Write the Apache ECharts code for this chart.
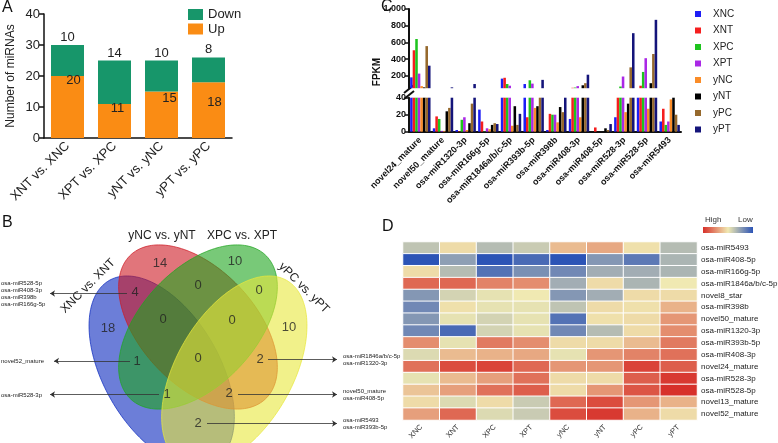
<!DOCTYPE html>
<html>
<head>
<meta charset="utf-8">
<script src="https://cdn.jsdelivr.net/npm/echarts@6/dist/echarts.min.js"></script>
<style>
html, body { margin: 0; padding: 0; background: #fff; }
#main { width: 778px; height: 443px; }
</style>
</head>
<body>
<div id="main"></div>
<script>
var FONT = '"Liberation Sans", Arial, sans-serif';

// ---- A: differentially expressed miRNAs
var compCats = ['XNT vs. XNC', 'XPT vs. XPC', 'yNT vs. yNC', 'yPT vs. yPC'];
var upCounts = [20, 11, 15, 18];
var downCounts = [10, 14, 10, 8];

// ---- C: FPKM per miRNA
var mirNames = ['novel24_mature', 'novel50_mature', 'osa-miR1320-3p', 'osa-miR166g-5p',
  'osa-miR1846a/b/c-5p', 'osa-miR393b-5p', 'osa-miR398b', 'osa-miR408-3p',
  'osa-miR408-5p', 'osa-miR528-3p', 'osa-miR528-5p', 'osa-miR5493'];
var sampleNames = ['XNC', 'XNT', 'XPC', 'XPT', 'yNC', 'yNT', 'yPC', 'yPT'];
var fpkmXNC = [180, 4, 2, 26, 165, 100, 2, 15, 0, 17, 45, 12];
var fpkmXNT = [505, 18, 0.5, 12, 175, 17, 21, 55, 5, 45, 80, 27];
var fpkmXPC = [640, 15, 14, 0.5, 100, 145, 20, 58, 0, 70, 245, 8];
var fpkmXPT = [225, 1, 17, 4, 80, 105, 20, 75, 0, 190, 410, 12];
var fpkmYNC = [75, 1, 2, 3, 7, 28, 11, 17, 0, 23, 27, 38];
var fpkmYNT = [60, 24, 10, 8, 30, 30, 29, 85, 4, 33, 110, 40];
var fpkmYPC = [555, 28, 33, 10, 8, 45, 23, 110, 2, 300, 460, 20];
var fpkmYPT = [320, 60, 100, 9, 21, 150, 42, 212, 9, 710, 870, 8];
var yTicksHigh = [200, 400, 600, 800, 1000];

// ---- D: heatmap (scaled expression), rows top to bottom
var hmRows = ['osa-miR5493', 'osa-miR408-5p', 'osa-miR166g-5p', 'osa-miR1846a/b/c-5p',
  'novel8_star', 'osa-miR398b', 'novel50_mature', 'osa-miR1320-3p', 'osa-miR393b-5p',
  'osa-miR408-3p', 'novel24_mature', 'osa-miR528-3p', 'osa-miR528-5p',
  'novel13_mature', 'novel52_mature'];
var zXNC = [-0.5, -2.0, 0.15, 1.4, -1.1, -1.3, -1.1, -1.3, 1.0, -0.2, 1.3, -0.1, 0.4, 0.15, 0.8];
var zXNT = [0.15, -1.0, -0.6, 1.4, -0.3, 0.1, -0.1, -1.7, -0.1, 0.5, 1.7, 0.5, 0.8, -0.2, 1.4];
var zXPC = [-0.6, -2.0, -1.6, 1.1, -0.1, -0.1, -0.3, -0.3, 1.2, 0.6, 1.8, 0.8, 1.3, 0.15, -0.2];
var zXPT = [-0.4, -1.7, -1.2, 1.0, 0.0, -0.1, -0.1, -0.1, 1.0, 0.7, 1.4, 1.3, 1.5, -0.4, -0.4];
var zYNC = [0.5, -2.0, -1.3, -0.8, -1.1, -0.5, -1.6, -1.3, 0.15, -0.1, 0.9, 0.15, 0.15, 1.4, 1.7];
var zYNT = [0.7, -1.1, -0.8, 0.15, -0.8, 0.15, 0.1, -0.6, 0.15, 0.9, 0.9, 0.15, 0.9, 1.7, 1.9];
var zYPC = [0.1, -1.5, -0.8, -0.7, 0.15, 0.1, 0.15, 0.15, 0.5, 1.1, 1.8, 1.5, 1.6, 0.9, 0.6];
var zYPT = [-0.6, -0.7, -0.7, 0.0, 0.15, 0.6, 0.9, 1.0, 1.2, 1.3, 1.5, 1.9, 2.0, 0.6, 0.15];

// ---- B: Venn counts
var vennSets = ['XNC vs. XNT', 'yNC vs. yNT', 'XPC vs. XPT', 'yPC vs. yPT'];
var vennCounts = [18, 14, 10, 10, 4, 0, 0, 0, 0, 1, 0, 2, 1, 2, 2];
var notesLeft = [['osa-miR528-5p', 'osa-miR408-3p', 'osa-miR398b', 'osa-miR166g-5p'],
  ['novel52_mature'], ['osa-miR528-3p']];
var notesRight = [['osa-miR1846a/b/c-5p', 'osa-miR1320-3p'],
  ['novel50_mature', 'osa-miR408-5p'], ['osa-miR5493', 'osa-miR393b-5p']];

// layout only (venn panel, pixel-like units)
var countPos = [[108, 328], [160, 263], [235, 261], [289, 327], [135, 292], [198, 285],
  [259, 290], [163, 319], [232, 320], [137, 361], [198, 358], [260, 359], [167, 394],
  [229, 393], [198, 423]];
var ellipses = [
  {cx: 161.7, cy: 371.4, a: 105, b: 58, rot: 60, rgb: '10,40,190'},
  {cx: 198, cy: 327, a: 98.6, b: 57.6, rot: 47, rgb: '205,25,35'},
  {cx: 198, cy: 327, a: 98.6, b: 57.6, rot: 133, rgb: '30,165,30'},
  {cx: 234.3, cy: 371.4, a: 105, b: 58, rot: 120, rgb: '232,232,60'}
];

var sampleColors = ['#1e1ef5', '#f51e1e', '#1ec41e', '#aa28e6', '#fa8c28', '#000000', '#96692d', '#14147a'];
var fpkm = [fpkmXNC, fpkmXNT, fpkmXPC, fpkmXPT, fpkmYNC, fpkmYNT, fpkmYPC, fpkmYPT];
var zCols = [zXNC, zXNT, zXPC, zXPT, zYNC, zYNT, zYPC, zYPT];

var hmData = [];
zCols.forEach(function (col, i) {
  col.forEach(function (v, j) { hmData.push([i, j, v]); });
});

var upOffsets = [[6, -7], [3, -7], [8, -5], [6, 9]];

var series = [
  {
    name: 'Up', type: 'bar', stack: 'a', xAxisIndex: 0, yAxisIndex: 0, barWidth: 33,
    itemStyle: {color: '#fa8c14'},
    data: upCounts.map(function (v, i) {
      return {value: v, label: {offset: upOffsets[i]}};
    }),
    label: {show: true, position: 'insideTop', fontSize: 13, color: '#222'}
  },
  {
    name: 'Down', type: 'bar', stack: 'a', xAxisIndex: 0, yAxisIndex: 0, barWidth: 33,
    itemStyle: {color: '#17966a'}, data: downCounts,
    label: {show: true, position: 'top', distance: 1, fontSize: 13, color: '#222'}
  }
];
[1, 2].forEach(function (g) {
  sampleNames.forEach(function (s, i) {
    series.push({
      name: s, type: 'bar', xAxisIndex: g, yAxisIndex: g, data: fpkm[i],
      barGap: '0%', barCategoryGap: '10%', clip: true,
      itemStyle: {color: sampleColors[i]}
    });
  });
});
series.push({
  type: 'heatmap', xAxisIndex: 3, yAxisIndex: 3, data: hmData,
  itemStyle: {borderColor: '#fff', borderWidth: 1}, emphasis: {disabled: true}
});
series.push({
  type: 'custom', xAxisIndex: 4, yAxisIndex: 4, data: [[0], [1], [2], [3]], z: 2,
  renderItem: function (params, api) {
    var e = ellipses[api.value(0)];
    var th = e.rot * Math.PI / 180, pts = [];
    for (var k = 0; k < 180; k++) {
      var t = k / 180 * Math.PI * 2;
      var ux = e.a * Math.cos(t), uy = e.b * Math.sin(t);
      pts.push(api.coord([e.cx + ux * Math.cos(th) - uy * Math.sin(th),
        e.cy + ux * Math.sin(th) + uy * Math.cos(th)]));
    }
    return {type: 'polygon', shape: {points: pts},
      style: {fill: 'rgba(' + e.rgb + ',0.6)', stroke: 'rgba(' + e.rgb + ',0.9)', lineWidth: 0.8}};
  }
});
series.push({
  type: 'scatter', xAxisIndex: 4, yAxisIndex: 4, z: 5, symbolSize: 1,
  itemStyle: {color: 'rgba(0,0,0,0)'},
  data: vennCounts.map(function (c, i) { return [countPos[i][0], countPos[i][1], c]; }),
  label: {show: true, position: 'inside', fontSize: 13, color: '#222',
    formatter: function (p) { return String(p.value[2]); }}
});
series.push({
  type: 'lines', coordinateSystem: 'cartesian2d', xAxisIndex: 4, yAxisIndex: 4, z: 5,
  symbol: ['none', 'arrow'], symbolSize: 5,
  lineStyle: {color: '#333', width: 0.8, opacity: 1},
  data: [
    {coords: [[127, 293.5], [50, 293.5]]},
    {coords: [[130, 361], [54, 361]]},
    {coords: [[159, 394.5], [50, 394.5]]},
    {coords: [[268, 359.5], [337, 359.5]]},
    {coords: [[238, 394.5], [337, 394.5]]},
    {coords: [[207, 423.5], [337, 423.5]]}
  ]
});

var boldTick = {fontSize: 9, fontWeight: 'bold', color: '#111'};
var blackLine = {show: true, lineStyle: {color: '#111', width: 2}};

var graphic = [];
[['A', 2, 0], ['B', 2, 215], ['C', 381, -1], ['D', 382, 219]].forEach(function (p) {
  graphic.push({type: 'text', x: p[1], y: p[2],
    style: {text: p[0], fill: '#111', font: '16px ' + FONT}});
});
[[vennSets[0], 88, 286, Math.PI / 4], [vennSets[1], 162, 236, 0],
 [vennSets[2], 242, 236, 0], [vennSets[3], 304, 288, -Math.PI / 4]].forEach(function (p) {
  graphic.push({type: 'text', x: p[1], y: p[2], rotation: p[3],
    style: {text: p[0], font: '12px ' + FONT, fill: '#222', align: 'center', verticalAlign: 'middle',
      textAlign: 'center', textVerticalAlign: 'middle'}});
});
var leftY = [293.5, 361.5, 395], rightY = [360, 394.5, 424];
notesLeft.forEach(function (n, i) {
  graphic.push({type: 'text', x: 1, y: leftY[i],
    style: {text: n.join('\n'), font: '6px ' + FONT, lineHeight: 7, fill: '#222',
      verticalAlign: 'middle', textVerticalAlign: 'middle'}});
});
notesRight.forEach(function (n, i) {
  graphic.push({type: 'text', x: 343, y: rightY[i],
    style: {text: n.join('\n'), font: '6px ' + FONT, lineHeight: 7, fill: '#222',
      verticalAlign: 'middle', textVerticalAlign: 'middle'}});
});
graphic.push({type: 'text', x: 377, y: 72, rotation: Math.PI / 2,
  style: {text: 'FPKM', font: 'bold 10px ' + FONT, fill: '#111', align: 'center', verticalAlign: 'middle',
    textAlign: 'center', textVerticalAlign: 'middle'}});
graphic.push({type: 'line', shape: {x1: 404, y1: 93, x2: 414, y2: 85}, style: {stroke: '#111', lineWidth: 2}});
graphic.push({type: 'line', shape: {x1: 404, y1: 99, x2: 414, y2: 91}, style: {stroke: '#111', lineWidth: 2}});
graphic.push({type: 'rect', shape: {x: 703, y: 227, width: 50, height: 6},
  style: {fill: new echarts.graphic.LinearGradient(0, 0, 1, 0, [
    {offset: 0, color: '#d7302a'}, {offset: 0.5, color: '#f0e9b2'}, {offset: 1, color: '#2c54b6'}])}});
graphic.push({type: 'text', x: 705, y: 216, style: {text: 'High', font: '8px ' + FONT, fill: '#333'}});
graphic.push({type: 'text', x: 738, y: 216, style: {text: 'Low', font: '8px ' + FONT, fill: '#333'}});

var option = {
  animation: false,
  textStyle: {fontFamily: FONT},
  legend: [
    {data: ['Down', 'Up'], orient: 'vertical', left: 188, top: 8, padding: 0, icon: 'rect',
      itemWidth: 15, itemHeight: 11, itemGap: 1.5,
      textStyle: {fontSize: 13, color: '#222', lineHeight: 13}},
    {data: sampleNames, orient: 'vertical', left: 695, top: 8, padding: 0, icon: 'rect',
      itemWidth: 6, itemHeight: 6, itemGap: 4.5,
      textStyle: {fontSize: 10, color: '#222', lineHeight: 12, padding: [0, 0, 0, 7]}}
  ],
  grid: [
    {left: 44, top: 14, width: 188, height: 124, outerBoundsMode: 'none'},
    {left: 409, top: 9, width: 272, height: 79.2, outerBoundsMode: 'none'},
    {left: 409, top: 97.7, width: 272, height: 34, outerBoundsMode: 'none'},
    {left: 403, top: 242, width: 294, height: 178, outerBoundsMode: 'none'},
    {left: 0, top: 205, width: 400, height: 238, outerBoundsMode: 'none'}
  ],
  xAxis: [
    {gridIndex: 0, type: 'category', data: compCats,
      axisLine: {lineStyle: {color: '#111', width: 1.5}}, axisTick: {show: false},
      axisLabel: {rotate: 45, fontSize: 13, color: '#222', margin: 6, interval: 0}},
    {gridIndex: 1, type: 'category', data: mirNames, show: false},
    {gridIndex: 2, type: 'category', data: mirNames, axisLine: blackLine,
      axisTick: {alignWithLabel: true, length: 5, lineStyle: {color: '#111', width: 1.5}},
      axisLabel: Object.assign({rotate: 45, margin: 7, interval: 0}, boldTick)},
    {gridIndex: 3, type: 'category', data: sampleNames, axisLine: {show: false},
      axisTick: {show: false}, splitArea: {show: false},
      axisLabel: {rotate: 45, fontSize: 7.5, color: '#333', margin: 6}},
    {gridIndex: 4, type: 'value', min: 0, max: 400, show: false}
  ],
  yAxis: [
    {gridIndex: 0, type: 'value', min: 0, max: 40, interval: 10,
      name: 'Number of miRNAs', nameLocation: 'middle', nameGap: 27,
      nameTextStyle: {fontSize: 12, color: '#222'},
      axisLine: {show: true, lineStyle: {color: '#111', width: 1.5}},
      axisTick: {show: true, length: 5, lineStyle: {color: '#111', width: 1.5}},
      splitLine: {show: false}, axisLabel: {fontSize: 13, color: '#222', margin: 4}},
    {gridIndex: 1, type: 'value', min: 50, max: 1000, axisLine: blackLine,
      axisTick: {show: true, length: 4, customValues: yTicksHigh, lineStyle: {color: '#111', width: 1.5}},
      splitLine: {show: false},
      axisLabel: Object.assign({margin: 3, customValues: yTicksHigh}, boldTick)},
    {gridIndex: 2, type: 'value', min: 0, max: 40, interval: 20, axisLine: blackLine,
      axisTick: {show: true, length: 4, lineStyle: {color: '#111', width: 1.5}},
      splitLine: {show: false}, axisLabel: Object.assign({margin: 3}, boldTick)},
    {gridIndex: 3, type: 'category', data: hmRows, inverse: true, position: 'right',
      axisLine: {show: false}, axisTick: {show: false},
      axisLabel: {fontSize: 8, color: '#222', margin: 4}},
    {gridIndex: 4, type: 'value', min: 205, max: 443, inverse: true, show: false}
  ],
  visualMap: {
    show: false, type: 'continuous', seriesIndex: 18, min: -2, max: 2,
    inRange: {color: ['#2c54b6', '#f0e9b2', '#d7302a']}
  },
  graphic: graphic,
  series: series
};

var chart = echarts.init(document.getElementById('main'));
chart.setOption(option);
window.onresize = function () { chart.resize(); };
</script>
</body>
</html>
